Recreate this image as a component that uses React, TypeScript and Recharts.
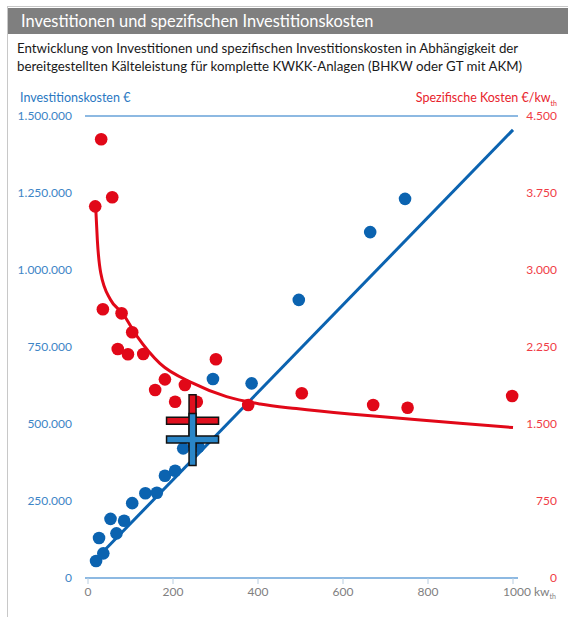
import { ComposedChart, Scatter, Line, XAxis, YAxis, CartesianGrid } from "recharts";

// Investitionskosten (blue, left axis)
const investKw = [19, 26, 36, 53, 67, 85, 104, 135, 162, 181, 205, 224, 260, 294, 385, 496, 664, 746];
const investEur = [
  55000, 130000, 80000, 192000, 145000, 186000, 243000, 275000, 277000, 332000, 348000, 421000, 426000,
  646000, 632000, 903000, 1123000, 1231000,
];

// Spezifische Kosten (red, right axis)
const specKw = [31, 57, 17, 35, 79, 104, 70, 94, 130, 301, 181, 158, 228, 205, 256, 377, 503, 671, 752, 998];
const specCost = [
  4273, 3708, 3620, 2617, 2578, 2393, 2230, 2179, 2182, 2130, 1935, 1831, 1880, 1717, 1717, 1685, 1799, 1685,
  1659, 1773,
];

// trend lines
const investTrendKw = [12, 1000];
const investTrendEur = [52000, 1455000];
const specTrendKw = [18, 22, 30, 53, 81, 116, 169, 248, 326, 405, 490, 616, 734, 875, 1000];
const specTrendCost = [3620, 3290, 2970, 2710, 2580, 2350, 2090, 1896, 1766, 1695, 1650, 1597, 1556, 1507, 1465];

// mean markers
const meanKw = [246];
const meanInvest = [450000];
const meanSpec = [1532];

const xTicks = [0, 200, 400, 600, 800, 1000];
const leftTicks = [0, 250000, 500000, 750000, 1000000, 1250000, 1500000];
const rightTicks = [0, 750, 1500, 2250, 3000, 3750, 4500];

const BLUE = "#0b63b0";
const RED = "#e10818";
const GRID = "#8db9e2";

const zip = (xs: number[], ys: number[]) => xs.map((x, i) => ({ x, y: ys[i] }));

const investPoints = zip(investKw, investEur);
const specPoints = zip(specKw, specCost);
const investTrend = zip(investTrendKw, investTrendEur);
const specTrend = zip(specTrendKw, specTrendCost);
const investMean = zip(meanKw, meanInvest);
const specMean = zip(meanKw, meanSpec);

const fmt = (v: number) => String(v).replace(/\B(?=(\d{3})+(?!\d))/g, ".");

const Dot = (color: string) => (p: any) => <circle cx={p.cx} cy={p.cy} r={6.3} fill={color} />;

const Cross = (color: string) => (p: any) => {
  const { cx, cy } = p;
  const a = 26;
  const t = 3.5;
  const d = `M${cx - t},${cy - a}H${cx + t}V${cy - t}H${cx + a}V${cy + t}H${cx + t}V${cy + a}H${cx - t}V${cy + t}H${cx - a}V${cy - t}H${cx - t}Z`;
  return <path d={d} fill={color} stroke="#111" strokeWidth={1.5} />;
};

const XTick = (p: any) => {
  const v = p.payload.value;
  if (v === 1000) {
    return (
      <text x={p.x - 10} y={p.y} dy="0.71em" fill="#808080" fontSize={12}>
        1000 kw
        <tspan fontSize={7} dy={3}>
          th
        </tspan>
      </text>
    );
  }
  return (
    <text x={p.x} y={p.y} dy="0.71em" textAnchor="middle" fill="#808080" fontSize={12}>
      {v}
    </text>
  );
};

const RightTick = (p: any) => (
  <text x={p.x + 39} y={p.y} dy="0.355em" textAnchor="end" fill="#f03c46" fontSize={12}>
    {fmt(p.payload.value)}
  </text>
);

export default function App() {
  return (
    <div
      style={{
        position: "absolute",
        left: 0,
        top: 0,
        width: 568,
        height: 617,
        background: "#fff",
        fontFamily: "Lato, sans-serif",
        overflow: "hidden",
      }}
    >
      <div
        style={{
          position: "absolute",
          left: 7,
          top: 6,
          width: 561,
          height: 611,
          borderTop: "1px solid #c8c8c8",
          borderLeft: "1px solid #c8c8c8",
        }}
      />
      <div
        style={{
          position: "absolute",
          left: 8,
          top: 8,
          width: 547,
          height: 26,
          paddingLeft: 13,
          background: "#7f7f7f",
          color: "#fff",
          fontSize: 16.4,
          lineHeight: "25px",
        }}
      >
        Investitionen und spezifischen Investitionskosten
      </div>
      <div
        style={{
          position: "absolute",
          left: 17,
          top: 39,
          fontSize: 13.3,
          lineHeight: "18px",
          color: "#1a1a1a",
          whiteSpace: "nowrap",
        }}
      >
        Entwicklung von Investitionen und spezifischen Investitionskosten in Abhängigkeit der
        <br />
        bereitgestellten Kälteleistung für komplette KWKK-Anlagen (BHKW oder GT mit AKM)
      </div>
      <div style={{ position: "absolute", left: 20, top: 90, fontSize: 12.5, color: "#2a78c2" }}>
        Investitionskosten €
      </div>
      <div style={{ position: "absolute", right: 11, top: 90, fontSize: 12.5, color: "#e8232d" }}>
        Spezifische Kosten €/kw<sub style={{ fontSize: 7 }}>th</sub>
      </div>

      <div style={{ position: "absolute", left: 0, top: 0 }}>
        <ComposedChart width={568} height={617} margin={{ top: 116, right: 5, bottom: 9, left: 25 }}>
          <CartesianGrid horizontal vertical={false} stroke={GRID} strokeWidth={2} />
          <XAxis
            type="number"
            dataKey="x"
            domain={[0, 1000]}
            ticks={xTicks}
            padding={{ left: 3, right: 5 }}
            height={30}
            axisLine={{ stroke: GRID, strokeWidth: 2 }}
            tickLine={{ stroke: "#b8cde0" }}
            tickSize={6}
            tickMargin={3}
            tick={<XTick />}
          />
          <YAxis
            yAxisId="l"
            type="number"
            dataKey="y"
            domain={[0, 1500000]}
            ticks={leftTicks}
            width={60}
            axisLine={false}
            tickLine={false}
            tickSize={0}
            tickMargin={13}
            tickFormatter={fmt}
            tick={{ fill: "#3d85c6", fontSize: 12 }}
          />
          <YAxis
            yAxisId="r"
            orientation="right"
            type="number"
            dataKey="y"
            domain={[0, 4500]}
            ticks={rightTicks}
            width={45}
            axisLine={false}
            tickLine={false}
            tickSize={0}
            tickMargin={0}
            tick={<RightTick />}
          />
          <Line
            yAxisId="l"
            data={investTrend}
            dataKey="y"
            type="linear"
            stroke={BLUE}
            strokeWidth={3}
            dot={false}
            activeDot={false}
            isAnimationActive={false}
          />
          <Line
            yAxisId="r"
            data={specTrend}
            dataKey="y"
            type="monotone"
            stroke={RED}
            strokeWidth={3}
            dot={false}
            activeDot={false}
            isAnimationActive={false}
          />
          <Scatter yAxisId="r" data={specPoints} shape={Dot(RED)} isAnimationActive={false} />
          <Scatter yAxisId="l" data={investPoints} shape={Dot(BLUE)} isAnimationActive={false} />
          <Scatter yAxisId="r" data={specMean} shape={Cross("#e0101e")} isAnimationActive={false} />
          <Scatter yAxisId="l" data={investMean} shape={Cross("#2a86c8")} isAnimationActive={false} />
        </ComposedChart>
      </div>
    </div>
  );
}
